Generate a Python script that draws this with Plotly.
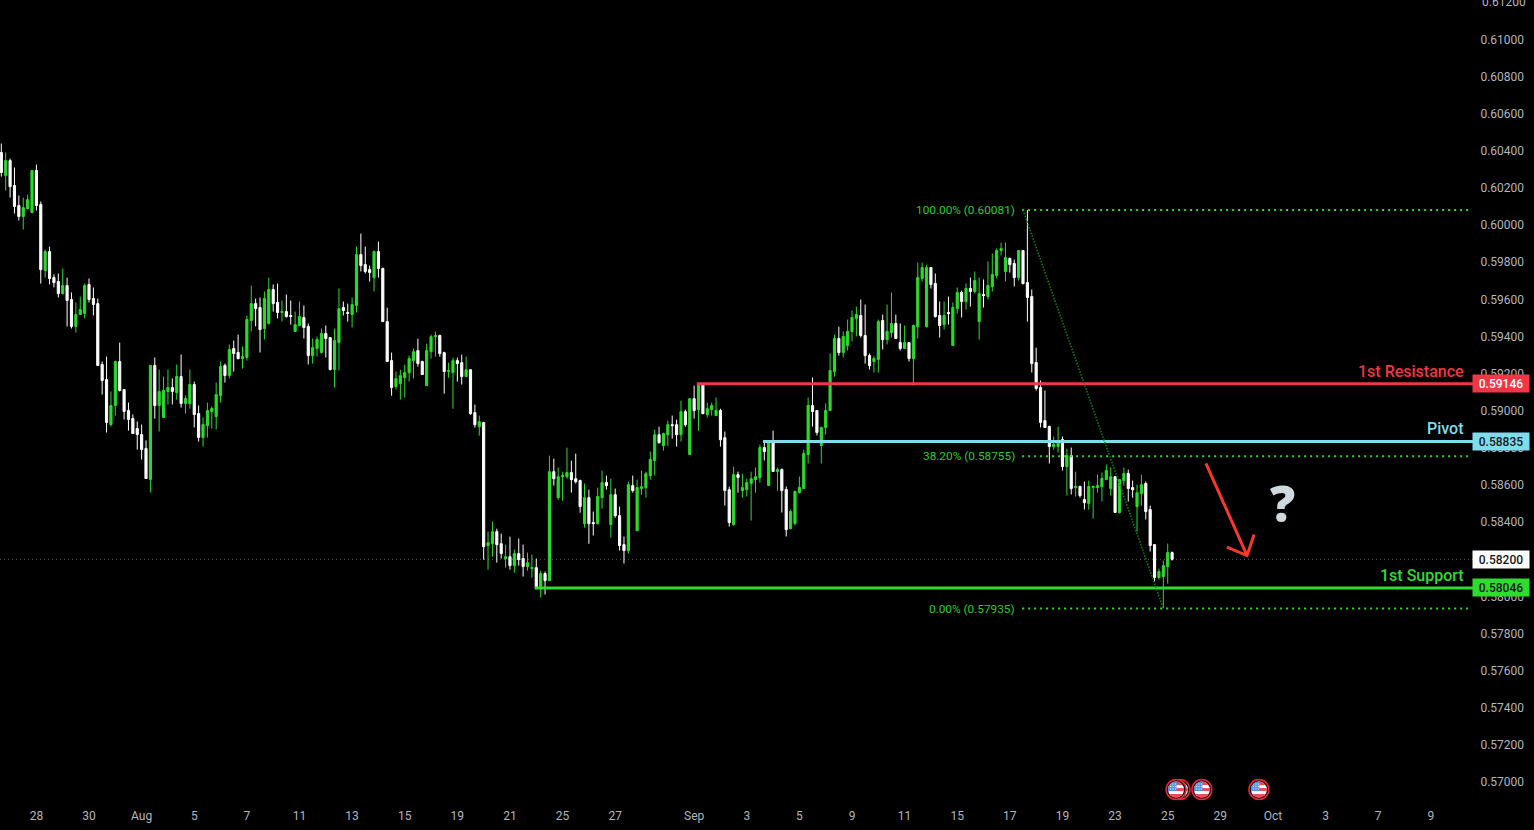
import base64
import plotly.graph_objects as go

# 4-hour candles, quoted in points (1 point = 0.00001)
POINT = 1e-5

opens = [
    60391,60267,60347,60213,60105,60046,60089,60067,60294,60111,
    59755,59857,59717,59696,59631,59674,59599,59454,59518,59524,
    59680,59604,59577,59249,59168,58926,59028,59265,59114,59001,
    58958,58904,58872,58797,58630,59244,59028,58964,59104,59125,
    59098,59184,59039,59039,59141,58985,58856,58920,58996,58969,
    59082,59244,59190,59335,59314,59281,59287,59486,59577,59556,
    59443,59470,59653,59583,59529,59534,59513,59427,59459,59502,
    59454,59297,59335,59314,59416,59394,59222,59367,59556,59529,
    59518,59567,59841,59787,59760,59717,59857,
    59766,59480,59270,59130,59146,59178,59205,59270,59324,59265,
    59135,59318,59399,59405,59313,59211,59205,59270,59259,59184,
    59221,58990,58914,58936,58274,58284,58349,58284,58204,58214,
    58166,58231,58204,58161,58150,58155,58042,58123,58085,58672,
    58532,58645,58645,58667,58634,58624,58392,58532,58398,58392,
    58532,58613,58387,58548,58435,58279,58247,58597,58354,58581,
    58586,58651,58731,58871,58812,58871,58925,58925,58871,58995,
    58764,59065,59006,59141,58979,59006,58974,59001,58855,58575,
    58387,58656,58570,58575,58608,58629,
    58640,58802,58597,58829,58673,58683,58576,58366,58393,58560,
    58581,58764,59028,59001,58813,58910,59001,59211,59389,59313,
    59351,59427,59497,59513,59405,59297,59265,59276,59486,59383,
    59421,59470,59367,59335,59367,59281,59453,59712,59453,59771,
    59685,59513,59464,59529,59351,59550,59637,59588,59658,59642,
    59480,59626,59615,59669,59728,59863,59750,59820,59793,59717,
    59863,59690,59615,59260,59125,58947,58915,
    58807,58807,58845,58699,58759,58586,58592,58522,58500,58586,
    58586,58592,58629,58581,58645,58452,58624,58662,58586,58484,
    58554,58608,58468,58279,58102,58107,58161,58236,
]

highs = [
    60439,60391,60358,60310,60159,60148,60164,60294,60326,60127,
    59868,59884,59734,59739,59766,59717,59637,59583,59615,59685,
    59712,59664,59604,59265,59292,59104,59270,59367,59114,59044,
    58980,58942,58926,58840,59247,59287,59222,59184,59222,59174,
    59249,59303,59082,59222,59157,59028,58964,59044,59023,59152,
    59265,59254,59357,59378,59410,59346,59513,59674,59604,59610,
    59642,59717,59680,59685,59594,59626,59594,59534,59588,59567,
    59470,59389,59400,59443,59459,59394,59443,59658,59588,59577,
    59610,59884,59954,59884,59782,59863,59911,
    59771,59555,59313,59211,59221,59248,59297,59335,59388,59270,
    59361,59410,59426,59410,59318,59259,59286,59286,59302,59291,
    59221,59033,58974,58941,58349,58403,58365,58338,58279,58322,
    58252,58311,58279,58236,58225,58204,58139,58134,58758,58742,
    58694,58672,58801,58731,58769,58629,58608,58575,58457,58586,
    58678,58651,58634,58581,58484,58322,58618,58651,58629,58678,
    58672,58780,58898,58914,58882,58947,58974,58952,59054,59006,
    59065,59135,59146,59141,59044,59044,59071,59011,58888,58591,
    58699,58672,58661,58634,58672,58694,
    58818,58834,58840,58893,58694,58689,58592,58468,58570,58646,
    58791,59071,59179,59001,58915,59039,59308,59410,59453,59427,
    59491,59540,59561,59599,59572,59308,59292,59491,59518,59572,
    59637,59518,59470,59459,59367,59464,59798,59798,59787,59771,
    59739,59588,59588,59615,59583,59664,59647,59685,59717,59750,
    59717,59707,59804,59847,59874,59906,59906,59825,59814,59863,
    59863,60081,59653,59340,59163,59109,58920,
    58861,58915,58861,58796,58802,58672,58597,58619,58624,58597,
    58656,58667,58710,58694,58645,58629,58694,58683,58624,58602,
    58656,58619,58489,58279,58150,58193,58285,58242,
]

lows = [
    60261,60186,60148,60062,60024,59976,60084,60067,60078,59685,
    59717,59680,59664,59610,59626,59454,59443,59421,59518,59497,
    59583,59513,59244,59087,58883,58915,58974,59104,58953,58893,
    58877,58791,58737,58635,58560,58958,58888,58964,59034,59034,
    59060,59017,58985,59012,58910,58834,58807,58856,58904,58899,
    59044,59152,59174,59211,59276,59227,59270,59427,59454,59314,
    59384,59464,59534,59497,59480,59502,59464,59427,59454,59389,
    59249,59254,59292,59308,59287,59217,59125,59217,59513,59480,
    59448,59529,59750,59739,59696,59642,59717,
    59480,59265,59081,59114,59060,59071,59157,59173,59238,59195,
    59135,59281,59291,59291,59092,59178,59011,59157,59141,59184,
    58979,58909,58866,58198,58144,58214,58182,58204,58155,58144,
    58128,58166,58107,58139,58101,58042,57994,58010,58085,58597,
    58521,58516,58634,58559,58608,58451,58371,58284,58328,58387,
    58473,58575,58317,58424,58247,58177,58231,58559,58354,58548,
    58532,58629,58651,58823,58785,58812,58850,58807,58834,58914,
    58764,58958,58893,58984,58963,58974,58974,58807,58489,58376,
    58381,58559,58532,58538,58408,58559,
    58613,58732,58597,58673,58570,58452,58323,58360,58382,58554,
    58581,58716,58915,58867,58716,58872,59001,59184,59297,59287,
    59324,59373,59400,59394,59254,59222,59206,59206,59330,59357,
    59394,59389,59324,59335,59265,59136,59389,59696,59448,59658,
    59502,59394,59437,59464,59351,59523,59502,59545,59561,59631,
    59383,59556,59599,59642,59712,59836,59696,59744,59669,59701,
    59680,59480,59206,59109,58910,58910,58716,
    58791,58775,58678,58543,58549,58538,58532,58468,58468,58419,
    58559,58511,58629,58543,58452,58446,58597,58511,58532,58349,
    58489,58414,58242,58080,58091,57935,58069,58193,
]

closes = [
    60283,60347,60207,60100,60046,60094,60137,60294,60105,59760,
    59857,59712,59690,59631,59674,59594,59454,59518,59545,59674,
    59599,59572,59244,59163,58937,59028,59265,59109,58996,58953,
    58877,58872,58791,58635,59244,59028,59104,59109,59125,59104,
    59184,59039,59066,59141,58980,58856,58926,59001,59012,59087,
    59238,59190,59330,59308,59281,59292,59491,59577,59550,59437,
    59604,59653,59577,59529,59534,59507,59507,59464,59507,59448,
    59297,59340,59384,59416,59389,59222,59378,59550,59540,59524,
    59572,59841,59782,59750,59744,59857,59766,
    59480,59265,59125,59173,59189,59205,59281,59318,59254,59195,
    59324,59399,59405,59308,59211,59216,59270,59254,59184,59221,
    58984,58925,58941,58268,58290,58349,58279,58231,58214,58166,
    58231,58198,58161,58182,58155,58042,58123,58085,58672,58634,
    58645,58651,58667,58629,58618,58484,58532,58392,58392,58538,
    58613,58597,58548,58435,58274,58247,58602,58570,58586,58591,
    58661,58737,58871,58828,58877,58925,58920,58871,58995,58925,
    59065,59001,59146,58984,59011,59028,59001,58844,58570,58398,
    58656,58640,58586,58613,58634,58645,
    58802,58780,58834,58673,58683,58570,58360,58457,58565,58587,
    58770,59028,58996,58883,58910,59001,59217,59389,59313,59400,
    59427,59502,59518,59405,59297,59243,59281,59480,59383,59427,
    59470,59389,59335,59367,59281,59459,59717,59771,59771,59680,
    59507,59459,59513,59523,59556,59637,59588,59658,59642,59701,
    59631,59620,59674,59734,59863,59874,59825,59787,59717,59863,
    59685,59610,59254,59120,58937,58910,58807,
    58818,58839,58699,58759,58581,58592,58543,58505,58592,58592,
    58597,58635,58678,58645,58452,58629,58662,58581,58575,58559,
    58602,58457,58274,58102,58134,58166,58236,58200,
]

# Time axis labels, placed by bar number
time_ticks = [8, 20, 32, 44, 56, 68, 80, 92, 104, 116, 128, 140, 158, 170,
              182, 194, 206, 218, 230, 242, 254, 266, 278, 290, 302, 314, 326]
time_labels = ["28", "30", "Aug", "5", "7", "11", "13", "15", "19", "21", "25", "27", "Sep", "3",
               "5", "9", "11", "15", "17", "19", "23", "25", "29", "Oct", "3", "7", "9"]

price_ticks = [0.570, 0.572, 0.574, 0.576, 0.578, 0.580, 0.582, 0.584, 0.586, 0.588, 0.590,
               0.592, 0.594, 0.596, 0.598, 0.600, 0.602, 0.604, 0.606, 0.608, 0.610]
top_price_tick = 0.612

# Horizontal key levels: (label, price, first bar, colour)
resistance = ("1st Resistance", 0.59146, 158.6, "#f23645")
pivot = ("Pivot", 0.58835, 173.7, "#7fdcea")
support = ("1st Support", 0.58046, 121.7, "#2edc2e")
levels = [resistance, pivot, support]

# Fibonacci retracement: (label, price)
fib_levels = [("100.00%", 0.60081), ("38.20%", 0.58755), ("0.00%", 0.57935)]
fib_first_bar = 232.8
fib_last_bar = 335
fib_trend_bars = [233, 265]
fib_trend_prices = [0.60081, 0.57935]

last_price = 0.58200

# Forecast arrow drawn on the chart: shaft, then the two barbs around the tip
arrow_bars = [274.7, 284.1, None, 279.5, 284.1, 285.7]
arrow_prices = [0.58717, 0.58220, None, 0.58265, 0.58220, 0.58333]

# Economic calendar markers, by bar number
event_bars = [268.8, 267.9, 273.8, 286.8]

BAR_RANGE = [-0.3, 335.85]
PRICE_RANGE = [0.56893, 0.61212]
GREEN = "#2bdc2b"
GREY = "#b2b5be"
FONT = "Roboto"

bars = list(range(len(closes)))
fig = go.Figure()

fig.add_trace(go.Candlestick(
    x=bars,
    open=[v * POINT for v in opens],
    high=[v * POINT for v in highs],
    low=[v * POINT for v in lows],
    close=[v * POINT for v in closes],
    increasing=dict(line=dict(color=GREEN, width=1), fillcolor=GREEN),
    decreasing=dict(line=dict(color="#ffffff", width=1), fillcolor="#ffffff"),
    whiskerwidth=0,
    hoverinfo="skip",
))

for _, price, first, colour in levels:
    fig.add_trace(go.Scatter(x=[first, BAR_RANGE[1]], y=[price, price], mode="lines",
                             line=dict(color=colour, width=3), hoverinfo="skip"))

for _, price in fib_levels:
    fig.add_trace(go.Scatter(x=[fib_first_bar, fib_last_bar], y=[price, price], mode="lines",
                             line=dict(color=GREEN, width=2, dash="2px,4px"), hoverinfo="skip"))

fig.add_trace(go.Scatter(x=fib_trend_bars, y=fib_trend_prices, mode="lines",
                         line=dict(color="#0b8a0b", width=1.5, dash="1.5px,1.5px"), hoverinfo="skip"))

fig.add_trace(go.Scatter(x=arrow_bars, y=arrow_prices, mode="lines",
                         line=dict(color="#f7392b", width=3), hoverinfo="skip"))

annotations = []

# The topmost price label runs against the edge of the page
annotations.append(dict(x=1, y=top_price_tick, xref="paper", yref="y", text=f"{top_price_tick:.5f}",
                        showarrow=False, xanchor="left", yanchor="middle", xshift=6,
                        font=dict(family=FONT, size=12, color=GREY)))

# Level captions sit just above their lines, price tags on the axis
for label, price, _, colour in levels:
    annotations.append(dict(x=334, y=price, xref="x", yref="y", text=label, showarrow=False,
                            xanchor="right", yanchor="middle", yshift=12.5,
                            font=dict(family=FONT, size=16, color=colour, weight=500)))

tag_styles = {
    resistance[1]: ("#f23645", "#ffffff"),
    pivot[1]: ("#7fdcea", "#131722"),
    support[1]: ("#2edc2e", "#131722"),
    last_price: ("#ffffff", "#131722"),
}
for price, (fill, ink) in tag_styles.items():
    annotations.append(dict(x=1, y=price, xref="paper", yref="y", text=f"{price:.5f}", showarrow=False,
                            xanchor="left", yanchor="middle", width=56, height=17, align="center",
                            xshift=-2, bgcolor=fill, borderpad=0,
                            font=dict(family=FONT, size=12, color=ink, weight=500)))

for label, price in fib_levels:
    annotations.append(dict(x=231.6, y=price, xref="x", yref="y", text=f"{label} ({price:.5f})",
                            showarrow=False, xanchor="right", yanchor="middle",
                            font=dict(family=FONT, size=11.8, color="#2bcc2b")))

annotations.append(dict(x=292.2, y=0.58504, xref="x", yref="y", text="?", showarrow=False,
                        xanchor="center", yanchor="middle",
                        font=dict(family="Open Sans", size=50, color="#cfd8dc", weight=800)))

# Small US flag badge used for each calendar event
FLAG_SVG = """<svg xmlns='http://www.w3.org/2000/svg' width='44' height='44' viewBox='0 0 44 44'>
<circle cx='22' cy='22' r='20' fill='#111' stroke='#e8293a' stroke-width='3'/>
<clipPath id='c'><circle cx='22' cy='22' r='16'/></clipPath>
<g clip-path='url(#c)'>
<rect x='0' y='0' width='44' height='44' fill='#ffffff'/>
<rect x='0' y='6' width='44' height='7' fill='#ef4a55'/>
<rect x='0' y='19' width='44' height='6' fill='#ef4a55'/>
<rect x='0' y='31' width='44' height='7' fill='#ef4a55'/>
<rect x='0' y='0' width='23' height='25' fill='#4a90e8'/>
<g fill='#cfe4ff'><circle cx='11' cy='11' r='1.5'/><circle cx='16' cy='11' r='1.5'/><circle cx='21' cy='11' r='1.5'/>
<circle cx='11' cy='16' r='1.5'/><circle cx='16' cy='16' r='1.5'/><circle cx='21' cy='16' r='1.5'/>
<circle cx='11' cy='21' r='1.5'/><circle cx='16' cy='21' r='1.5'/><circle cx='21' cy='21' r='1.5'/></g>
</g></svg>"""
flag_uri = "data:image/svg+xml;base64," + base64.b64encode(FLAG_SVG.encode()).decode()

images = [dict(source=flag_uri, xref="x", yref="y", x=bar, y=0.56960, sizex=5, sizey=0.00118,
               xanchor="center", yanchor="middle", layer="above", sizing="contain")
          for bar in event_bars]

fig.update_layout(
    width=1534,
    height=830,
    autosize=False,
    margin=dict(l=0, r=60, t=0, b=28),
    paper_bgcolor="#000000",
    plot_bgcolor="#000000",
    showlegend=False,
    dragmode=False,
    annotations=annotations,
    images=images,
    shapes=[dict(type="line", xref="paper", yref="y", x0=0, x1=1, y0=last_price, y1=last_price,
                 layer="below", line=dict(color="#5d5d5d", width=1, dash="1px,3px"))],
    xaxis=dict(range=BAR_RANGE, tickmode="array", tickvals=time_ticks, ticktext=time_labels,
               showgrid=False, zeroline=False, showline=False, ticks="outside", ticklen=3,
               tickcolor="#000000", rangeslider=dict(visible=False),
               tickfont=dict(family=FONT, size=12, color=GREY), tickangle=0),
    yaxis=dict(range=PRICE_RANGE, side="right", tickmode="array", tickvals=price_ticks,
               ticktext=[f"{v:.5f}" for v in price_ticks], showgrid=False, zeroline=False,
               showline=False, ticks="outside", ticklen=3, tickcolor="#000000",
               tickfont=dict(family=FONT, size=12, color=GREY)),
)

fig.write_html("out.html", config=dict(displayModeBar=False))
